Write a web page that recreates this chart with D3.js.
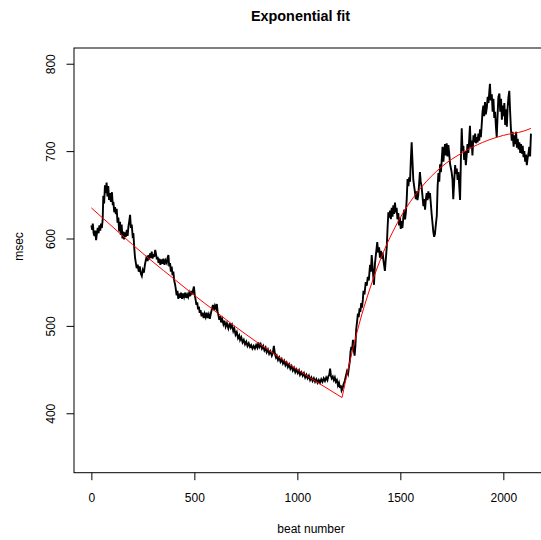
<!DOCTYPE html>
<html>
<head>
<meta charset="utf-8">
<script src="https://cdn.jsdelivr.net/npm/d3@7"></script>
<style>
  body { margin: 0; background: #fff; }
  svg { display: block; font-family: "Liberation Sans", Arial, Helvetica, sans-serif; }
</style>
</head>
<body>
<div id="chart"></div>
<script>
// beat-to-beat interval series
var beats = [0,4,7,11,15,19,23,27,31,35,39,43,47,51,55,58,62,66,70,74,78,82,86,91,95,100,104,107,111,115,119,123,127,131,135,139,143,147,151,155,159,163,167,172,176,180,184,188,192,196,200,204,208,212,216,220,225,230,235,240,245,250,255,260,264,269,273,277,281,285,289,293,297,301,305,310,314,318,322,326,330,335,340,345,350,355,360,366,370,374,378,382,386,390,394,398,402,406,410,414,418,422,426,430,435,440,445,450,455,460,465,470,475,480,485,490,494,498,502,506,510,514,518,522,526,530,535,540,545,550,555,560,565,570,575,580,585,590,595,600,605,609,613,617,621,625,630,635,641,646,652,658,665,
  672,677,683,689,694,700,706,712,718,722,728,734,740,746,752,758,764,770,776,782,788,794,800,806,811,816,822,828,834,840,846,851,857,863,869,876,881,886,891,896,900,906,912,918,924,930,936,942,948,954,960,966,972,978,984,990,996,1002,1008,1013,1020,1026,1032,1038,1044,1050,1056,1062,1068,1074,1080,1086,1092,1098,1104,1110,1116,1122,1128,1134,1140,1146,1150,1155,1159,1163,1167,1172,1177,1182,1187,1192,1197,1202,1207,1211,1215,1219,1224,1230,1236,1241,1246,1250,1255,1258,1262,1266,1270,1274,1278,1282,1286,1290,1294,1298,1302,1306,1310,1314,1318,
  1321,1326,1332,1337,1342,1347,1353,1357,1361,1366,1372,1377,1383,1388,1392,1397,1401,1406,1410,1414,1418,1422,1425,1429,1434,1438,1442,1446,1450,1454,1458,1462,1466,1470,1474,1478,1482,1486,1490,1494,1498,1502,1506,1510,1515,1519,1523,1527,1531,1535,1539,1543,1547,1551,1555,1559,1563,1567,1571,1575,1579,1583,1587,1591,1595,1599,1603,1607,1612,1616,1620,1624,1628,1632,1636,1640,1644,1648,1652,1656,1660,1664,1668,1672,1677,1681,1685,1689,1693,1697,1701,1705,1709,1713,1717,1721,1725,1729,1733,1737,1741,1745,1749,1753,
  1757,1762,1766,1770,1774,1778,1782,1786,1790,1794,1798,1802,1806,1810,1814,1818,1822,1826,1830,1834,1838,1842,1846,1850,1855,1859,1863,1867,1871,1875,1879,1883,1887,1891,1895,1899,1903,1907,1911,1915,1920,1924,1928,1932,1935,1939,1944,1948,1952,1956,1960,1964,1968,1972,1976,1981,1985,1989,1993,1997,2001,2005,2009,2013,2017,2021,2025,2029,2033,2037,2041,2045,2050,2054,2058,2062,2066,2070,2074,2078,2082,2086,2090,2094,2098,2102,2106,2110,2114,2118,2122,2126,2130,2134];

var msec = [615,610,617,606,603,609,598,606,612,606,615,609,617,612,622,649,640,661,652,664,648,660,644,652,642,653,638,642,630,636,628,634,618,624,608,619,604,616,600,608,599,607,602,610,603,614,620,627,612,616,604,606,590,578,572,566,570,562,568,560,557,564,561,570,575,580,574,581,576,583,578,585,577,582,579,587,582,576,579,572,577,570,576,571,577,570,575,572,578,581,568,572,562,568,558,562,552,548,542,535,540,531,537,532,538,531,537,533,538,532,536,533,538,534,540,536,541,545,535,530,524,527,519,522,515,518,511,515,509,514,510,515,509,513,508,514,519,524,518,523,520,525,516,512,507,511,504,508,502,506,499,503,497,
  503,498,501,494,497,490,493,486,489,484,487,481,484,479,482,477,480,476,478,474,477,474,478,475,481,476,479,474,477,472,475,470,473,468,471,466,469,477,468,464,466,461,464,459,462,457,460,455,458,453,456,451,454,449,452,447,450,446,449,444,447,443,446,441,444,440,443,438,441,437,440,436,439,435,438,435,439,436,440,437,441,438,442,444,451,443,440,442,438,441,436,438,432,435,429,432,426,428,433,437,443,448,445,452,460,470,476,473,484,472,466,478,497,505,514,510,520,516,526,521,530,
  540,536,550,546,556,552,570,562,581,565,547,572,585,596,584,590,578,586,577,584,575,568,563,575,590,612,630,624,632,622,635,625,638,628,641,630,635,622,629,615,624,611,620,612,625,633,622,630,645,668,660,670,665,690,710,688,667,660,653,645,654,644,650,662,676,665,660,650,637,645,633,645,652,644,654,646,652,640,628,618,608,602,605,615,626,660,675,665,685,676,690,705,688,700,708,695,709,694,707,698,686,681,676,668,
  645,668,684,674,680,667,676,660,644,690,726,700,706,690,700,684,695,708,698,712,729,704,712,695,718,710,720,709,716,710,720,712,725,716,730,745,752,740,756,742,750,762,755,768,777,758,765,745,760,738,745,728,716,740,762,766,745,760,736,752,740,755,730,748,728,750,762,769,745,725,712,722,705,718,708,722,704,714,702,710,698,708,697,706,693,700,688,696,684,692,697,705,694,720];

// fitted curve (two exponential pieces)
var fitBeats = [0,100,200,300,400,500,600,700,800,900,1000,1100,1217,1250,1300,1350,1400,1500,1600,1700,1800,1900,2000,2100,2134];
var fitMsec  = [635,614,593,573,554,535,517,499,482,466,450,435,418,454,502,541,574,624,658,682,698,710,718,723,726];

var xTicks = [0, 500, 1000, 1500, 2000];
var yTicks = [400, 500, 600, 700, 800];

var width = 541, height = 540;
var plotLeft = 74, plotRight = 548.5, plotTop = 48, plotBottom = 472.7;

var svg = d3.select("#chart").append("svg")
  .attr("width", width)
  .attr("height", height);

var x = d3.scaleLinear().domain([-84.3, 2219.3]).range([plotLeft, plotRight]);
var y = d3.scaleLinear().domain([332, 818]).range([plotBottom, plotTop]);

// data line
var line = d3.line()
  .x(function(d, i){ return x(beats[i]); })
  .y(function(d){ return y(d); });

svg.append("path")
  .datum(msec)
  .attr("fill", "none")
  .attr("stroke", "#000")
  .attr("stroke-width", 1.9)
  .attr("d", line);

// fit line, split at the breakpoint
var brk = fitBeats.indexOf(1217);
var fitLine = d3.line()
  .x(function(d){ return x(d[0]); })
  .y(function(d){ return y(d[1]); })
  .curve(d3.curveMonotoneX);

var pieces = [
  d3.range(0, brk + 1).map(function(i){ return [fitBeats[i], fitMsec[i]]; }),
  d3.range(brk, fitBeats.length).map(function(i){ return [fitBeats[i], fitMsec[i]]; })
];

svg.selectAll(".fit")
  .data(pieces)
  .enter().append("path")
  .attr("class", "fit")
  .attr("fill", "none")
  .attr("stroke", "#ff0000")
  .attr("stroke-width", 1)
  .attr("d", fitLine);

// box
svg.append("rect")
  .attr("x", plotLeft)
  .attr("y", plotTop)
  .attr("width", plotRight - plotLeft)
  .attr("height", plotBottom - plotTop)
  .attr("fill", "none")
  .attr("stroke", "#000")
  .attr("stroke-width", 1);

// x axis
var xAxis = svg.append("g")
  .attr("transform", "translate(0," + plotBottom + ")")
  .call(d3.axisBottom(x).tickValues(xTicks).tickSize(7.5).tickPadding(13).tickFormat(d3.format("d")));
xAxis.select(".domain").remove();
xAxis.selectAll("line").attr("stroke", "#000");
xAxis.selectAll("text")
  .attr("font-size", 12)
  .attr("font-family", "Liberation Sans, Arial, sans-serif")
  .attr("fill", "#000");

// y axis, labels parallel to the axis as in R
var yAxis = svg.append("g")
  .attr("transform", "translate(" + plotLeft + ",0)")
  .call(d3.axisLeft(y).tickValues(yTicks).tickSize(7.5).tickFormat(d3.format("d")));
yAxis.select(".domain").remove();
yAxis.selectAll("line").attr("stroke", "#000");
yAxis.selectAll("text")
  .attr("x", null)
  .attr("dy", null)
  .attr("text-anchor", "middle")
  .attr("transform", "translate(-19,0) rotate(-90)")
  .attr("font-size", 12)
  .attr("font-family", "Liberation Sans, Arial, sans-serif")
  .attr("fill", "#000");

// title and axis titles
svg.append("text")
  .attr("x", 300.5)
  .attr("y", 21)
  .attr("text-anchor", "middle")
  .attr("font-size", 14.4)
  .attr("font-weight", "bold")
  .text("Exponential fit");

svg.append("text")
  .attr("x", 311)
  .attr("y", 533)
  .attr("text-anchor", "middle")
  .attr("font-size", 12)
  .text("beat number");

svg.append("text")
  .attr("transform", "translate(23,246.5) rotate(-90)")
  .attr("text-anchor", "middle")
  .attr("font-size", 12)
  .text("msec");
</script>
</body>
</html>
